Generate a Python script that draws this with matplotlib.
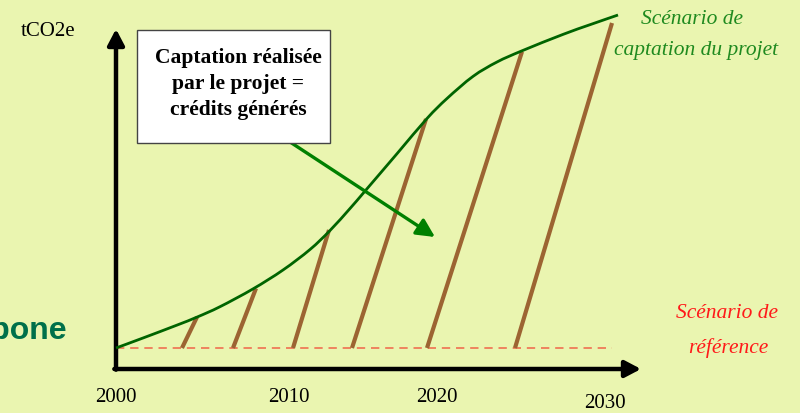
import matplotlib
matplotlib.use("Agg")
import matplotlib.pyplot as plt
import numpy as np
from matplotlib.patches import Rectangle, PathPatch
from matplotlib.path import Path

# project sequestration scenario (year, tCO2e - arbitrary units)
curve_years = [2000.0, 2001.62, 2003.66, 2004.86, 2006.24, 2008.22, 2010.02,
               2011.64, 2012.84, 2014.04, 2014.94, 2016.86, 2018.66, 2019.86,
               2021.42, 2022.86, 2024.36, 2026.82, 2028.44, 2030.12]
curve_vals = [0.0, 3.0, 6.87, 9.27, 12.39, 17.73, 23.4, 29.55, 35.25, 41.85,
              47.07, 58.29, 68.85, 74.85, 81.48, 85.8, 89.16, 94.08, 96.99, 99.9]

# credit segments: start year on the baseline -> end point on the curve
seg_start = [2003.96, 2007.02, 2010.62, 2014.16, 2018.66, 2023.94]
seg_end_year = [2004.86, 2008.40, 2012.78, 2018.60, 2024.36, 2029.76]
seg_end_val = [9.3, 17.9, 35.4, 68.7, 88.9, 97.5]

# reference scenario
base_years = [2000.0, 2029.76]
base_vals = [0.0, 0.0]

year_labels = ['2000', '2010', '2020', '2030']

bg = '#EAF5B0'
serif = ['Liberation Serif', 'DejaVu Serif']

fig = plt.figure(figsize=(8, 4.13), dpi=100, facecolor=bg)
ax = fig.add_axes([0, 0, 1, 1])
ax.set_facecolor(bg)
ax.set_xlim(1993.04, 2041.04)
ax.set_ylim(-19.5, 104.4)
ax.axis('off')

def px(x, y):
    # pixel position -> figure fraction (used for text placement)
    return x / 800, 1 - y / 413

def smooth_path(xs, ys):
    # bezier path through the read points (catmull-rom tangents)
    p = np.column_stack([xs, ys])
    verts = [p[0]]
    codes = [Path.MOVETO]
    for i in range(len(p) - 1):
        p0 = p[max(i - 1, 0)]
        p1, p2 = p[i], p[i + 1]
        p3 = p[min(i + 2, len(p) - 1)]
        verts += [p1 + (p2 - p0) / 6, p2 - (p3 - p1) / 6, p2]
        codes += [Path.CURVE4] * 3
    return Path(verts, codes)

# axes with arrows
arrow = dict(arrowstyle='-|>,head_length=0.95,head_width=0.5', lw=3.2,
             color='black', shrinkA=0, shrinkB=0)
ax.annotate('', xy=(2000, 95.7), xytext=(2000, -6.5), arrowprops=arrow)
ax.annotate('', xy=(2031.5, -6.3), xytext=(1999.9, -6.3), arrowprops=arrow)

# reference line
ax.plot(base_years, base_vals, color='#F07050', lw=1.2, ls=(0, (5, 3.5)), zorder=2)

# credits
for s, ey, ev in zip(seg_start, seg_end_year, seg_end_val):
    ax.plot([s, ey], [0, ev], color='#9C6432', lw=3.0, solid_capstyle='butt', zorder=3)

# project curve
ax.add_patch(PathPatch(smooth_path(curve_years, curve_vals), facecolor='none',
                       edgecolor='#006400', lw=2.0, zorder=4))

# arrow from box
ax.annotate('', xy=(2019.14, 33.3), xytext=(2010.26, 62.4),
            arrowprops=dict(arrowstyle='-|>,head_length=1.1,head_width=0.55',
                            lw=2.4, color='#008000', shrinkA=0, shrinkB=0),
            zorder=5)

# text box
fig.patches.append(Rectangle(px(137, 143), 193 / 800, 113 / 413,
                             transform=fig.transFigure, facecolor='white',
                             edgecolor='#444444', lw=1.0, zorder=6))
fig.text(*px(238, 84), 'Captation réalisée\npar le projet =\ncrédits générés',
         ha='center', va='center', family=serif, fontweight='bold',
         fontsize=15.5, linespacing=1.38, zorder=7)

# labels
fig.text(*px(48, 32), 'tCO2e', ha='center', va='center', family=serif, fontsize=15)
label_pos = [(116, 397), (289, 398), (437, 398), (605, 404)]
for lab, (x, y) in zip(year_labels, label_pos):
    fig.text(*px(x, y), lab, ha='center', va='center', family=serif, fontsize=15)

fig.text(*px(692, 19), 'Scénario de', ha='center', va='center', family=serif,
         style='italic', fontsize=15.5, color='#1f8a1f')
fig.text(*px(696, 51), 'captation du projet', ha='center', va='center', family=serif,
         style='italic', fontsize=15.5, color='#1f8a1f')
fig.text(*px(727, 314), 'Scénario de', ha='center', va='center', family=serif,
         style='italic', fontsize=15.5, color='#ff1a1a')
fig.text(*px(728, 348), 'référence', ha='center', va='center', family=serif,
         style='italic', fontsize=15.5, color='#ff1a1a')

fig.text(*px(67, 331), 'Carbone', ha='right', va='center',
         family=['Liberation Sans', 'DejaVu Sans'], fontweight='bold',
         fontsize=23, color='#00704A')

fig.savefig('out.png', dpi=100, facecolor=bg)
